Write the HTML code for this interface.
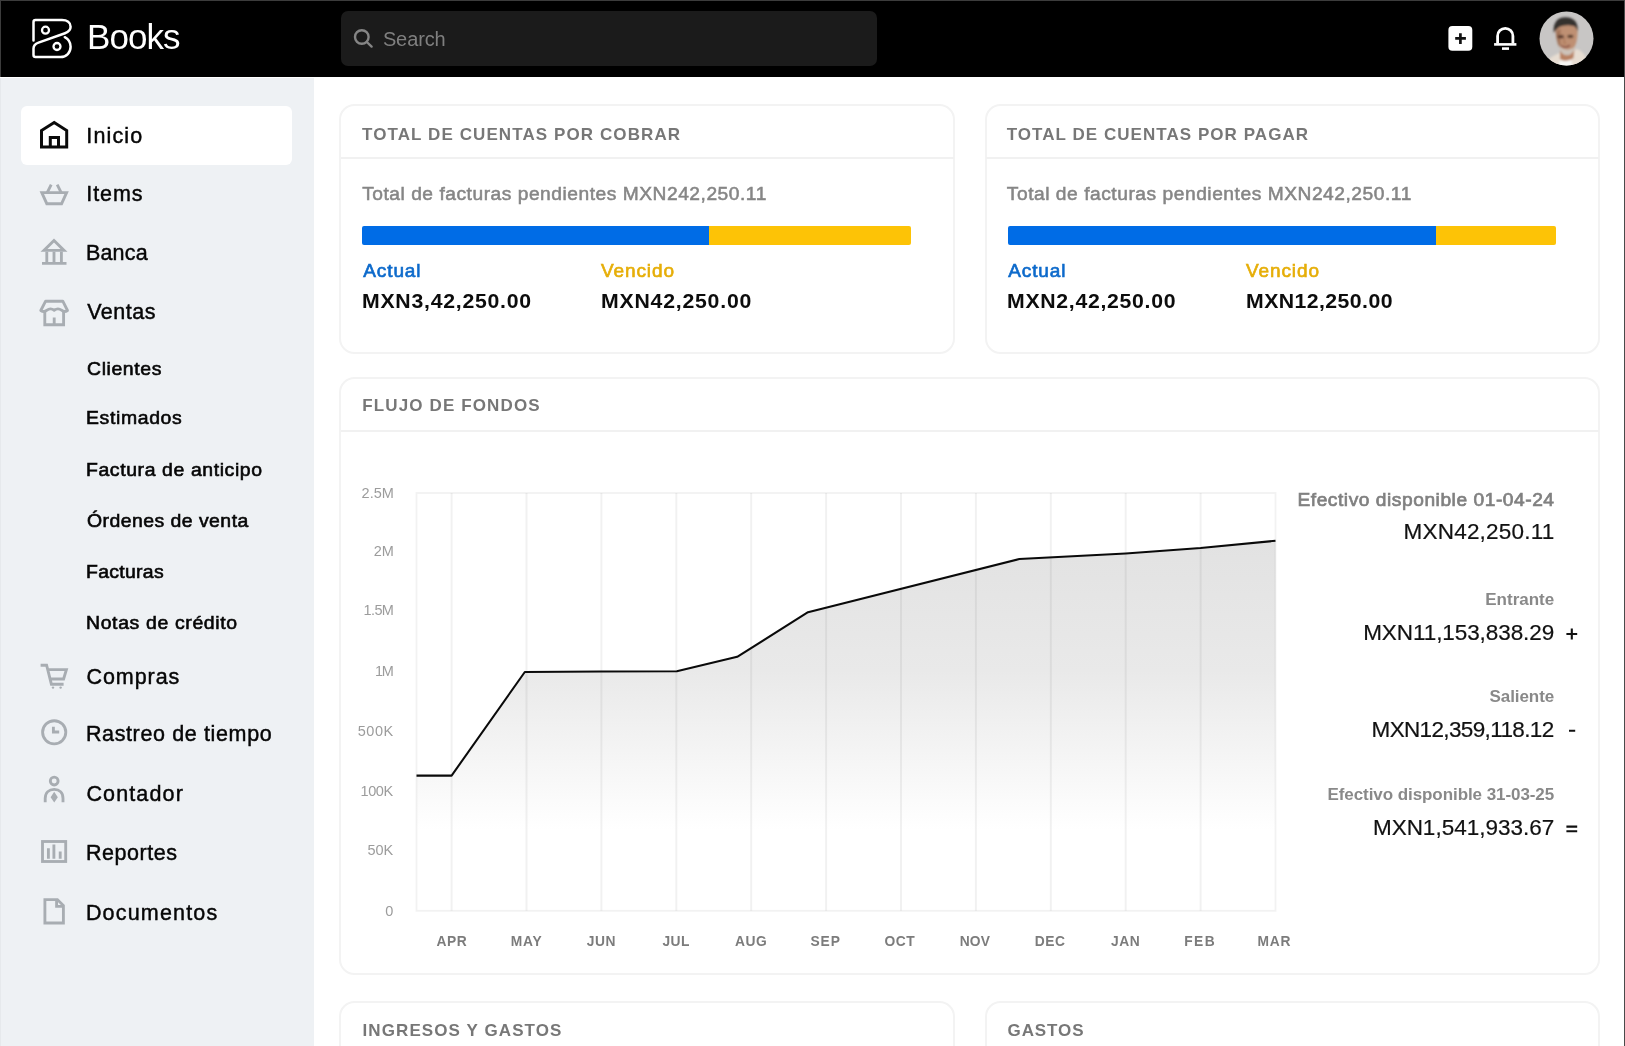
<!DOCTYPE html>
<html><head><meta charset="utf-8"><title>Books</title>
<style>
html,body{margin:0;padding:0;width:1625px;height:1046px;overflow:hidden;}
body{position:relative;background:#fff;font-family:"Liberation Sans",sans-serif;}
#page{position:absolute;left:0;top:0;width:1625px;height:1046px;overflow:hidden;background:#fff;}
.abs{position:absolute;}
.t{position:absolute;white-space:pre;line-height:1;}
#hdr{left:0;top:0;width:1625px;height:76.7px;background:#000;}
#side{left:0;top:78.1px;width:313.5px;height:970px;background:#eef1f4;border-left:1px solid #e6e9ec;box-sizing:border-box;}
#search{left:340.5px;top:11.2px;width:536.5px;height:54.4px;background:#1b1b1b;border-radius:7px;}
#active{left:20.6px;top:105.8px;width:271.5px;height:59.2px;background:#fff;border-radius:6px;}
.card{position:absolute;box-sizing:border-box;border:2px solid #f3f3f3;border-radius:15.5px;background:#fff;}
.div{position:absolute;height:2px;background:#f1f1f1;}
svg{position:absolute;left:0;top:0;overflow:visible;}
</style></head><body><div id="page">
<div class="abs" id="hdr"></div>
<div class="abs" id="side"></div>
<div class="abs" id="search"></div>
<div class="abs" id="active"></div>

<div class="card" style="left:339.4px;top:104.2px;width:615.7px;height:249.6px;"></div>
<div class="card" style="left:984.6px;top:104.2px;width:615.6px;height:249.6px;"></div>
<div class="card" style="left:339.4px;top:376.9px;width:1260.8px;height:598.4px;"></div>
<div class="card" style="left:339.4px;top:1000.8px;width:615.7px;height:120px;"></div>
<div class="card" style="left:984.6px;top:1000.8px;width:615.6px;height:120px;"></div>
<div class="div" style="left:341px;top:157.1px;width:613px;"></div>
<div class="div" style="left:986px;top:157.1px;width:613px;"></div>
<div class="div" style="left:341px;top:430.4px;width:1258px;"></div>

<!-- progress bars -->
<div class="abs" style="left:362.3px;top:226.1px;width:549px;height:18.9px;border-radius:2px;background:linear-gradient(90deg,#006ce6 0,#006ce6 346.6px,#fdc306 346.6px);"></div>
<div class="abs" style="left:1007.5px;top:226.1px;width:548.5px;height:18.9px;border-radius:2px;background:linear-gradient(90deg,#006ce6 0,#006ce6 428px,#fdc306 428px);"></div>

<svg width="1625" height="1046" viewBox="0 0 1625 1046">
<defs>
<linearGradient id="ag" gradientUnits="userSpaceOnUse" x1="0" y1="540" x2="0" y2="830">
<stop offset="0" stop-color="#e2e2e2"/><stop offset="0.45" stop-color="#e9e9e9"/><stop offset="0.8" stop-color="#f7f7f7"/><stop offset="1" stop-color="#ffffff"/>
</linearGradient>
<clipPath id="avc"><circle cx="1566.5" cy="38.5" r="27"/></clipPath>
<filter id="bl" x="-20%" y="-20%" width="140%" height="140%"><feGaussianBlur stdDeviation="0.8"/></filter>
</defs>

<!-- chart -->
<path d="M416.5 775.6 L451.6 775.6 L524.8 672.0 L601.4 671.6 L676.8 671.2 L737.2 656.8 L808.0 612.2 L1019.3 559.1 L1125.7 553.4 L1200.6 548.0 L1275.5 540.8 L1275.5 910.8 L416.5 910.8 Z" fill="url(#ag)"/>
<g stroke="#000" stroke-opacity="0.055" stroke-width="2"><line x1="451.6" y1="493.0" x2="451.6" y2="910.8"/><line x1="526.5" y1="493.0" x2="526.5" y2="910.8"/><line x1="601.4" y1="493.0" x2="601.4" y2="910.8"/><line x1="676.3" y1="493.0" x2="676.3" y2="910.8"/><line x1="751.2" y1="493.0" x2="751.2" y2="910.8"/><line x1="826.1" y1="493.0" x2="826.1" y2="910.8"/><line x1="901.0" y1="493.0" x2="901.0" y2="910.8"/><line x1="975.9" y1="493.0" x2="975.9" y2="910.8"/><line x1="1050.8" y1="493.0" x2="1050.8" y2="910.8"/><line x1="1125.7" y1="493.0" x2="1125.7" y2="910.8"/><line x1="1200.6" y1="493.0" x2="1200.6" y2="910.8"/></g>
<rect x="416.5" y="493.0" width="859.0" height="417.79999999999995" fill="none" stroke="#000" stroke-opacity="0.05" stroke-width="1.9"/>
<path d="M416.5 775.6 L451.6 775.6 L524.8 672.0 L601.4 671.6 L676.8 671.2 L737.2 656.8 L808.0 612.2 L1019.3 559.1 L1125.7 553.4 L1200.6 548.0 L1275.5 540.8" fill="none" stroke="#0a0a0a" stroke-width="2.05" stroke-linejoin="round"/>

<!-- logo -->
<g fill="none" stroke="#fff" stroke-width="2.5" stroke-linecap="round" stroke-linejoin="round">
<path d="M33.5 40.5 V22 Q33.5 20 35.5 20 H62 C67 20 70.6 22.5 70.6 26.8 C70.6 30 68.5 32 65 33.2 L38.5 42.6 C35 43.8 33.5 45.5 33.5 48.5 V55 Q33.5 57 35.5 57 H60.5 C66.5 57 70.6 52.5 70.6 46.8 C70.6 42.5 68 39 64.8 37.2"/>
<circle cx="45.5" cy="30.2" r="3.5" stroke-width="2.3"/>
<circle cx="57" cy="46.5" r="3.5" stroke-width="2.3"/>
</g>
<!-- search icon -->
<g fill="none" stroke="#858585" stroke-width="2.4" stroke-linecap="round">
<circle cx="361.8" cy="37" r="6.8"/><path d="M366.8 42 L371.6 46.6"/>
</g>
<!-- plus button -->
<rect x="1448.4" y="26.1" width="23.9" height="24.6" rx="4" fill="#fff"/>
<path d="M1455.2 38.4 H1465.9 M1460.4 33.2 V43.9" stroke="#111" stroke-width="2.7" fill="none"/>
<!-- bell -->
<g fill="none" stroke="#fff" stroke-width="2.8">
<path d="M1497.6 43.4 V36 A7.65 7.65 0 0 1 1512.9 36 V43.4"/>
</g>
<rect x="1494.1" y="43.1" width="22.3" height="2.6" fill="#fff"/>
<rect x="1502" y="47.3" width="7" height="2.6" fill="#fff"/>

<!-- avatar -->
<g clip-path="url(#avc)">
<rect x="1539" y="11" width="55" height="55" fill="#c8c6c5"/>
<g filter="url(#bl)">
<path d="M1545 68 C1546 60 1551 56.5 1558 53.5 L1577.5 49 C1583 52 1587 56 1589 68 Z" fill="#e7ddd2"/>
<path d="M1558.5 68 L1559.5 60.5 L1571.5 60 L1572 68 Z" fill="#f6f5f3"/>
<path d="M1560 50 L1574.5 48 L1573.5 58 C1569 61.5 1563 61.5 1560 59 Z" fill="#b98263"/>
<path d="M1555.6 31 C1555 24 1560 21 1566.5 21 C1573 21 1578 24 1577.6 32 C1577.6 41 1575 50 1568 55 C1562 55 1556.5 44 1555.6 31 Z" fill="#bf9073"/>
<path d="M1555.8 31 C1556 40 1558 47 1562 52 C1560 44 1559.5 36 1561 29 Z" fill="#8c5e46" opacity="0.55"/>
<path d="M1558.6 45 C1559.6 52.5 1563 55.3 1567.5 55.3 C1571.6 55 1574.8 51 1576 45 C1572.6 51 1562.6 51.4 1558.6 45 Z" fill="#cdc3ba"/>
<ellipse cx="1560.8" cy="36.8" rx="3.4" ry="2.2" fill="#6b4634" opacity="0.55"/>
<ellipse cx="1570.4" cy="36.4" rx="3.2" ry="2" fill="#6b4634" opacity="0.45"/>
<path d="M1553.8 33 C1552.6 23 1557 17.2 1565.5 17.2 C1574 17.2 1578.6 22.5 1577.6 31.5 C1576.6 27.5 1574.5 25.6 1571.5 25.8 C1567 24.6 1560.5 25.8 1558 28 C1556 29.5 1555 31 1553.8 33 Z" fill="#34312f"/>
<path d="M1558 36.6 H1563.4 M1567.8 36.2 H1573" stroke="#3f2b21" stroke-width="1.9" fill="none"/>
<path d="M1561.2 45.6 Q1565.5 48.6 1570 45.2" stroke="#8d5548" stroke-width="1.7" fill="none"/>
<path d="M1564.6 38 L1564 43 L1566.4 43.4" stroke="#a87656" stroke-width="1.2" fill="none"/>
</g>
</g>

<!-- math symbols -->
<path d="M1566.4 634 H1577.2 M1571.8 628.6 V639.4 M1569 730.8 H1575.2 M1566.4 826.6 H1577.2 M1566.4 831.3 H1577.2" stroke="#111" stroke-width="2.1" fill="none"/>
<!-- sidebar icons -->
<!-- home -->
<path d="M41.5 147 V130.6 L54.2 122.6 L66.7 130.6 V147 Z M50.3 147 V137.4 H58.5 V147" fill="none" stroke="#0a0a0a" stroke-width="3" stroke-linejoin="miter"/>
<g fill="none" stroke="#a8adb2" stroke-width="2.85">
<!-- basket -->
<path d="M41.8 192.6 H66.6 L61.6 203.7 H46.8 Z" stroke-linejoin="miter"/>
<path d="M47.2 192.6 L51.2 184.6 M61.2 192.6 L57.2 184.6"/>
<!-- bank -->
<path d="M54 240.6 L64 250.4 H44 Z" stroke-linejoin="miter"/>
<path d="M46.8 251.7 V262.2 M54 251.7 V262.2 M61.4 251.7 V262.2 M42 263.4 H66.5"/>
<!-- store -->
<path d="M44.8 311.5 V324.7 H63.6 V311.5 M54.2 317.5 V324.7"/>
<path d="M45.6 301.2 H62.8 L67.5 310.5 Q64.5 312.8 61.5 310.2 Q58 307.6 54.2 310.2 Q50.4 307.6 47 310.2 Q44 312.8 40.8 310.5 Z" stroke-linejoin="round"/>
<!-- cart -->
<path d="M40.6 665.2 H46.6 L51.4 684.2 H63.6 M48.4 669.6 H66.4 L63.6 679 H50.6"/>
<!-- clock -->
<circle cx="54.2" cy="732.3" r="11.6"/>
<path d="M53.4 726.8 V732 H59.2"/>
<!-- accountant -->
<circle cx="54.2" cy="781.1" r="3.9"/>
<path d="M45.2 802.2 V798.5 C45.2 792.5 49 789.4 54.2 789.4 C59.4 789.4 63 792.5 63 798.5 V802.2"/>
<!-- reports -->
<rect x="42.5" y="841.5" width="23.2" height="20" />
<path d="M48.4 848.2 V858.8 M53.9 844.4 V858.8 M60.2 851.6 V858.8"/>
<!-- document -->
<path d="M44.9 899.6 H57.4 L63.4 905.6 V923 H44.9 Z M56.6 899.6 V906.4 H63.4" stroke-linejoin="miter"/>
</g>
<g fill="#a8adb2">
<circle cx="53" cy="687.6" r="1.2"/><circle cx="60.6" cy="687.6" r="1.2"/>
<path d="M54.2 791.8 L57.8 797.2 L54.2 802.4 L50.6 797.2 Z"/>
</g>
</svg>

<div id="tx" style="position:absolute;left:0;top:0;width:1625px;height:1046px;will-change:transform;">
<span class="t " style="left:87.08px;top:19.47px;font-size:35px;letter-spacing:-0.991px;color:#fff;">Books</span>
<span class="t " style="left:382.90px;top:28.67px;font-size:20px;letter-spacing:-0.112px;color:#7f7f7f;">Search</span>
<span class="t " style="left:86.36px;top:125.80px;font-size:21.5px;letter-spacing:1.132px;color:#060606;-webkit-text-stroke:0.45px #060606;">Inicio</span>
<span class="t " style="left:86.36px;top:183.50px;font-size:21.5px;letter-spacing:0.893px;color:#060606;-webkit-text-stroke:0.45px #060606;">Items</span>
<span class="t " style="left:85.88px;top:243.40px;font-size:21.5px;letter-spacing:0.221px;color:#060606;-webkit-text-stroke:0.45px #060606;">Banca</span>
<span class="t " style="left:87.14px;top:302.30px;font-size:21.5px;letter-spacing:0.503px;color:#060606;-webkit-text-stroke:0.45px #060606;">Ventas</span>
<span class="t " style="left:86.44px;top:667.40px;font-size:21.5px;letter-spacing:0.939px;color:#060606;-webkit-text-stroke:0.45px #060606;">Compras</span>
<span class="t " style="left:85.88px;top:723.80px;font-size:21.5px;letter-spacing:0.634px;color:#060606;-webkit-text-stroke:0.45px #060606;">Rastreo de tiempo</span>
<span class="t " style="left:86.44px;top:783.80px;font-size:21.5px;letter-spacing:1.130px;color:#060606;-webkit-text-stroke:0.45px #060606;">Contador</span>
<span class="t " style="left:85.88px;top:843.30px;font-size:21.5px;letter-spacing:0.553px;color:#060606;-webkit-text-stroke:0.45px #060606;">Reportes</span>
<span class="t " style="left:85.88px;top:902.60px;font-size:21.5px;letter-spacing:1.180px;color:#060606;-webkit-text-stroke:0.45px #060606;">Documentos</span>
<span class="t " style="left:86.80px;top:360.34px;font-size:18.5px;letter-spacing:0.574px;color:#060606;transform:scaleX(1.05);transform-origin:0 0;-webkit-text-stroke:0.6px #060606;">Clientes</span>
<span class="t " style="left:86.44px;top:408.84px;font-size:18.5px;letter-spacing:0.605px;color:#060606;transform:scaleX(1.05);transform-origin:0 0;-webkit-text-stroke:0.6px #060606;">Estimados</span>
<span class="t " style="left:86.44px;top:460.64px;font-size:18.5px;letter-spacing:0.574px;color:#060606;transform:scaleX(1.05);transform-origin:0 0;-webkit-text-stroke:0.6px #060606;">Factura de anticipo</span>
<span class="t " style="left:87.00px;top:511.94px;font-size:18.5px;letter-spacing:0.436px;color:#060606;transform:scaleX(1.05);transform-origin:0 0;-webkit-text-stroke:0.6px #060606;">Órdenes de venta</span>
<span class="t " style="left:86.44px;top:562.84px;font-size:18.5px;letter-spacing:0.285px;color:#060606;transform:scaleX(1.05);transform-origin:0 0;-webkit-text-stroke:0.6px #060606;">Facturas</span>
<span class="t " style="left:86.44px;top:613.84px;font-size:18.5px;letter-spacing:0.614px;color:#060606;transform:scaleX(1.05);transform-origin:0 0;-webkit-text-stroke:0.6px #060606;">Notas de crédito</span>
<span class="t " style="left:361.96px;top:125.51px;font-size:17px;letter-spacing:1.096px;color:#777777;font-weight:700;">TOTAL DE CUENTAS POR COBRAR</span>
<span class="t " style="left:1006.70px;top:125.51px;font-size:17px;letter-spacing:1.046px;color:#777777;font-weight:700;">TOTAL DE CUENTAS POR PAGAR</span>
<span class="t " style="left:362.30px;top:396.61px;font-size:17px;letter-spacing:1.127px;color:#777777;font-weight:700;">FLUJO DE FONDOS</span>
<span class="t " style="left:362.50px;top:1022.41px;font-size:17px;letter-spacing:1.094px;color:#777777;font-weight:700;">INGRESOS Y GASTOS</span>
<span class="t " style="left:1007.50px;top:1022.41px;font-size:17px;letter-spacing:0.923px;color:#777777;font-weight:700;">GASTOS</span>
<span class="t " style="left:362.14px;top:183.55px;font-size:19.2px;letter-spacing:0.527px;color:#868686;-webkit-text-stroke:0.55px #868686;">Total de facturas pendientes MXN242,250.11</span>
<span class="t " style="left:1006.80px;top:183.55px;font-size:19.2px;letter-spacing:0.535px;color:#868686;-webkit-text-stroke:0.55px #868686;">Total de facturas pendientes MXN242,250.11</span>
<span class="t " style="left:363.26px;top:261.12px;font-size:19px;letter-spacing:0.900px;color:#0d6acb;-webkit-text-stroke:0.65px #0d6acb;">Actual</span>
<span class="t " style="left:601.00px;top:261.12px;font-size:19px;letter-spacing:0.897px;color:#e6ae08;-webkit-text-stroke:0.65px #e6ae08;">Vencido</span>
<span class="t " style="left:1008.14px;top:261.12px;font-size:19px;letter-spacing:0.924px;color:#0d6acb;-webkit-text-stroke:0.65px #0d6acb;">Actual</span>
<span class="t " style="left:1246.00px;top:261.12px;font-size:19px;letter-spacing:0.897px;color:#e6ae08;-webkit-text-stroke:0.65px #e6ae08;">Vencido</span>
<span class="t " style="left:362.30px;top:292.29px;font-size:19.5px;letter-spacing:0.675px;color:#0c0c0c;font-weight:700;transform:scaleX(1.09);transform-origin:0 0;">MXN3,42,250.00</span>
<span class="t " style="left:600.54px;top:292.29px;font-size:19.5px;letter-spacing:0.711px;color:#0c0c0c;font-weight:700;transform:scaleX(1.09);transform-origin:0 0;">MXN42,250.00</span>
<span class="t " style="left:1006.54px;top:292.29px;font-size:19.5px;letter-spacing:0.631px;color:#0c0c0c;font-weight:700;transform:scaleX(1.09);transform-origin:0 0;">MXN2,42,250.00</span>
<span class="t " style="left:1245.54px;top:292.29px;font-size:19.5px;letter-spacing:0.389px;color:#0c0c0c;font-weight:700;transform:scaleX(1.09);transform-origin:0 0;">MXN12,250.00</span>
<span class="t " style="left:361.50px;top:485.83px;font-size:14.5px;letter-spacing:0.062px;color:#9c9c9c;">2.5M</span>
<span class="t " style="left:373.70px;top:543.63px;font-size:14.5px;letter-spacing:0.079px;color:#9c9c9c;">2M</span>
<span class="t " style="left:363.62px;top:603.23px;font-size:14.5px;letter-spacing:-0.645px;color:#9c9c9c;">1.5M</span>
<span class="t " style="left:374.90px;top:663.53px;font-size:14.5px;letter-spacing:-1.121px;color:#9c9c9c;">1M</span>
<span class="t " style="left:357.70px;top:724.43px;font-size:14.5px;letter-spacing:0.547px;color:#9c9c9c;">500K</span>
<span class="t " style="left:360.50px;top:783.63px;font-size:14.5px;letter-spacing:-0.386px;color:#9c9c9c;">100K</span>
<span class="t " style="left:367.50px;top:842.73px;font-size:14.5px;letter-spacing:-0.048px;color:#9c9c9c;">50K</span>
<span class="t " style="left:385.20px;top:903.53px;font-size:14.5px;letter-spacing:-0.062px;color:#9c9c9c;">0</span>
<span class="t " style="left:436.48px;top:935.32px;font-size:13.8px;letter-spacing:0.550px;color:#7c7c7c;font-weight:700;">APR</span>
<span class="t " style="left:510.66px;top:935.32px;font-size:13.8px;letter-spacing:0.790px;color:#7c7c7c;font-weight:700;">MAY</span>
<span class="t " style="left:586.82px;top:935.32px;font-size:13.8px;letter-spacing:0.550px;color:#7c7c7c;font-weight:700;">JUN</span>
<span class="t " style="left:662.39px;top:935.32px;font-size:13.8px;letter-spacing:0.550px;color:#7c7c7c;font-weight:700;">JUL</span>
<span class="t " style="left:734.88px;top:935.32px;font-size:13.8px;letter-spacing:0.550px;color:#7c7c7c;font-weight:700;">AUG</span>
<span class="t " style="left:810.39px;top:935.32px;font-size:13.8px;letter-spacing:0.950px;color:#7c7c7c;font-weight:700;">SEP</span>
<span class="t " style="left:884.42px;top:935.32px;font-size:13.8px;letter-spacing:0.630px;color:#7c7c7c;font-weight:700;">OCT</span>
<span class="t " style="left:959.63px;top:935.32px;font-size:13.8px;letter-spacing:0.270px;color:#7c7c7c;font-weight:700;">NOV</span>
<span class="t " style="left:1034.80px;top:935.32px;font-size:13.8px;letter-spacing:0.550px;color:#7c7c7c;font-weight:700;">DEC</span>
<span class="t " style="left:1110.91px;top:935.32px;font-size:13.8px;letter-spacing:0.590px;color:#7c7c7c;font-weight:700;">JAN</span>
<span class="t " style="left:1184.35px;top:935.32px;font-size:13.8px;letter-spacing:1.350px;color:#7c7c7c;font-weight:700;">FEB</span>
<span class="t " style="left:1257.47px;top:935.32px;font-size:13.8px;letter-spacing:0.830px;color:#7c7c7c;font-weight:700;">MAR</span>
<span class="t " style="left:1297.44px;top:490.45px;font-size:19.2px;letter-spacing:0.536px;color:#808080;-webkit-text-stroke:0.7px #808080;">Efectivo disponible 01-04-24</span>
<span class="t " style="left:1403.60px;top:520.75px;font-size:22.5px;letter-spacing:0.197px;color:#111;-webkit-text-stroke:0.2px #111;">MXN42,250.11</span>
<span class="t " style="left:1485.26px;top:590.91px;font-size:17px;letter-spacing:-0.002px;color:#898989;font-weight:700;">Entrante</span>
<span class="t " style="left:1363.18px;top:622.05px;font-size:22.5px;letter-spacing:-0.080px;color:#111;-webkit-text-stroke:0.2px #111;">MXN11,153,838.29</span>
<span class="t " style="left:1489.50px;top:687.81px;font-size:17px;letter-spacing:-0.071px;color:#898989;font-weight:700;">Saliente</span>
<span class="t " style="left:1371.54px;top:719.45px;font-size:22.5px;letter-spacing:-0.637px;color:#111;-webkit-text-stroke:0.2px #111;">MXN12,359,118.12</span>
<span class="t " style="left:1327.50px;top:785.51px;font-size:17px;letter-spacing:-0.072px;color:#898989;font-weight:700;">Efectivo disponible 31-03-25</span>
<span class="t " style="left:1372.90px;top:817.45px;font-size:22.5px;letter-spacing:-0.005px;color:#111;-webkit-text-stroke:0.2px #111;">MXN1,541,933.67</span>
</div>

<!-- window edge lines -->
<div class="abs" style="left:0;top:0;width:1625px;height:1px;background:#3c3c3c;"></div>
<div class="abs" style="left:0;top:0;width:1px;height:77px;background:#3c3c3c;"></div>
<div class="abs" style="left:1624px;top:0;width:1px;height:1046px;background:#4a4a4a;"></div>
</div></body></html>
